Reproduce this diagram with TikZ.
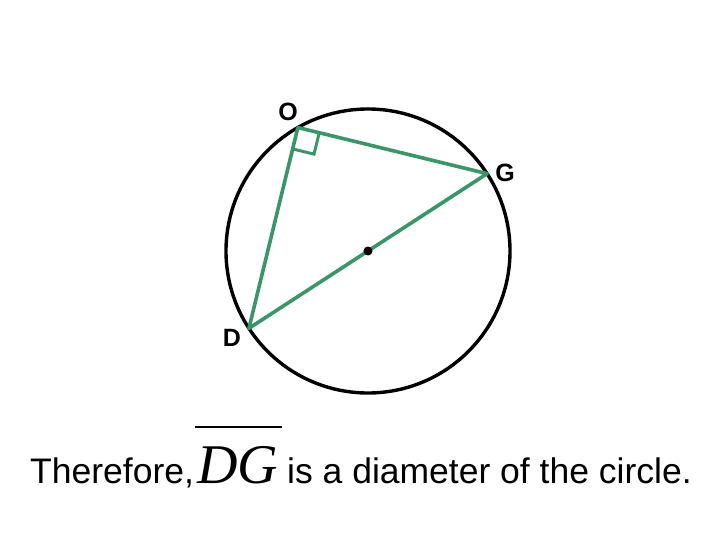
\documentclass[tikz,border=0pt]{standalone}
\usepackage{fontspec}
\setmainfont{Liberation Sans}
\newfontfamily\timesfont{Liberation Serif}
\usetikzlibrary{calc}
\definecolor{geo}{RGB}{58,150,105}
\begin{document}
\begin{tikzpicture}[x=1pt,y=-1pt,
  seg/.style={draw=geo,line width=3.6pt,line join=round},
  ptlabel/.style={font=\fontsize{25}{27}\selectfont\bfseries,inner sep=0pt},
  bodytext/.style={font=\fontsize{35.5}{40}\selectfont,inner sep=0pt,anchor=base west}]
\useasboundingbox (0,0) rectangle (720,540);
\fill[white] (0,0) rectangle (720,540);
\coordinate (c) at (368,251);
\coordinate (G) at ($(c)+(-33:142)$);
\coordinate (D) at ($(c)+(147:142)$);
\coordinate (O) at ($(c)+(-119.6:142)$);
\draw[line width=3.4pt] (c) circle[radius=142];
% right angle marker
\coordinate (u) at ($(O)!22pt!(G)$);
\coordinate (v) at ($(O)!22pt!(D)$);
\coordinate (w) at ($(u)+(v)-(O)$);
\draw[draw=geo,line width=3pt] (u) -- (w) -- (v);
\draw[seg] (O) -- (G) -- (D) -- cycle;
\fill (c) circle[radius=4.5];
\node[ptlabel] (lo) at (288,112) {O};
\node[ptlabel] (lg) at (505,173) {G};
\node[ptlabel] (ld) at (232,338) {D};
\node[bodytext] (t1) at (30,483) {Therefore,};
\node[inner sep=0pt,anchor=base west,font=\timesfont\itshape\fontsize{56}{60}\selectfont] (dg) at (197,483) {DG};
\draw[line width=2pt] (195,427) -- (282,427);
\node[bodytext] (t2) at (287,483) {is a diameter of the circle.};
\end{tikzpicture}
\end{document}
